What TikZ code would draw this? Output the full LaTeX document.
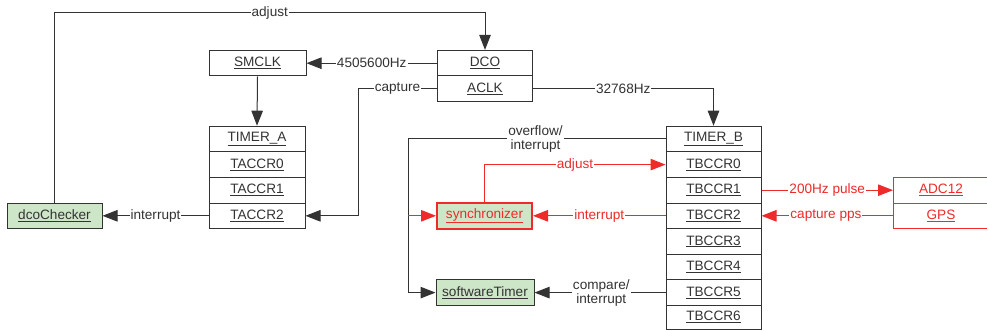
\documentclass[tikz,border=0pt]{standalone}
\usepackage{fontspec}
\setmainfont{Liberation Sans}
\usetikzlibrary{arrows.meta}
\definecolor{wire}{HTML}{333333}
\definecolor{alert}{HTML}{EE2A2A}
\definecolor{leaf}{HTML}{CDE6C8}
\tikzset{
  blk/.style={draw=wire, line width=1pt, minimum width=95pt, minimum height=25.6pt,
    inner sep=0pt, font=\fontsize{13.6}{15}\selectfont, text=wire},
  redblk/.style={blk, draw=alert, text=alert},
  task/.style={blk, fill=leaf},
  conn/.style={draw=wire, line width=1pt, -{Triangle[length=15pt,width=11.5pt]}},
  redconn/.style={conn, draw=alert},
  lbl/.style={fill=white, inner sep=1pt, font=\fontsize{13.6}{14}\selectfont, text=wire, align=center},
  redlbl/.style={lbl, text=alert}
}
\newcommand{\ul}[1]{\underline{#1}}
\begin{document}
\begin{tikzpicture}[x=1pt,y=-1pt]
\useasboundingbox (0,0) rectangle (987,331);

% clock sources
\node[blk] (dco)  at (485,63.2) {\ul{DCO}};
\node[blk] (aclk) at (485,88.8) {\ul{ACLK}};
\node[blk, minimum width=97pt] (smclk) at (257.5,63.2) {\ul{SMCLK}};

% TIMER_A stack
\node[blk, minimum width=96pt] (ta)  at (257,139) {\ul{TIMER\_A}};
\node[blk, minimum width=96pt] (ta0) at (257,164.6) {\ul{TACCR0}};
\node[blk, minimum width=96pt] (ta1) at (257,190.2) {\ul{TACCR1}};
\node[blk, minimum width=96pt] (ta2) at (257,215.8) {\ul{TACCR2}};

% TIMER_B stack
\node[blk] (tb)  at (713.5,139) {\ul{TIMER\_B}};
\node[blk] (tb0) at (713.5,164.6) {\ul{TBCCR0}};
\node[blk] (tb1) at (713.5,190.2) {\ul{TBCCR1}};
\node[blk] (tb2) at (713.5,215.8) {\ul{TBCCR2}};
\node[blk] (tb3) at (713.5,241.4) {\ul{TBCCR3}};
\node[blk] (tb4) at (713.5,267) {\ul{TBCCR4}};
\node[blk] (tb5) at (713.5,292.6) {\ul{TBCCR5}};
\node[blk, minimum height=23.6pt] (tb6) at (713.5,317.2) {\ul{TBCCR6}};

% software tasks
\node[task] (chk)  at (54.5,215.8) {\ul{dcoChecker}};
\node[task, draw=alert, line width=2pt, text=alert] (sync) at (484.5,215.8) {\ul{synchronizer}};
\node[task, minimum width=98pt] (swt) at (485,292.6) {\ul{softwareTimer}};

% external peripherals
\node[redblk, minimum width=110pt, anchor=west] (adc) at (893,190.2) {\hspace*{-15pt}\ul{ADC12}};
\node[redblk, minimum width=110pt, anchor=west] (gps) at (893,215.8) {\hspace*{-15pt}\ul{GPS}};

% bend points
\coordinate (ctop) at (chk.north |- 0,13);
\coordinate (dtop) at (dco.north |- 0,13);
\coordinate (capx) at (358,88.8);
\coordinate (capy) at (358,215.8);
\coordinate (bend32) at (tb.north |- aclk.east);
\coordinate (ovx) at (408,139);
\coordinate (ovy) at (408,292.6);
\coordinate (ovs) at (408,215.8);
\coordinate (adjx) at (sync.north |- tb0.west);

% black connectors
\draw[conn] (chk.north) -- (ctop) -- node[lbl, pos=0.5]{adjust} (dtop) -- (dco.north);
\draw[conn] (dco.west) -- node[lbl, pos=0.5]{4505600Hz} (smclk.east);
\draw[conn] (smclk.south) -- (ta.north);
\draw[conn] (aclk.west) -- node[lbl, pos=0.5]{capture} (capx) -- (capy) -- (ta2.east);
\draw[conn] (ta2.west) -- node[lbl, pos=0.5]{interrupt} (chk.east);
\draw[conn] (aclk.east) -- node[lbl, pos=0.5]{32768Hz} (bend32) -- (tb.north);
\draw[conn] (tb.west) -- node[lbl, pos=0.505]{overflow/\\interrupt} (ovx) -- (ovy) -- (swt.west);
\draw[conn] (tb5.west) -- node[lbl, pos=0.49]{compare/\\interrupt} (swt.east);

% red connectors
\draw[redconn] (ovs) -- (sync.west);
\draw[redconn] (sync.north) -- (adjx) -- node[redlbl, pos=0.5]{adjust} (tb0.west);
\draw[redconn] (tb2.west) -- node[redlbl, pos=0.5]{interrupt} (sync.east);
\draw[redconn] (tb1.east) -- node[redlbl, pos=0.5]{200Hz pulse} (adc.west);
\draw[redconn] (gps.west) -- node[redlbl, pos=0.51]{capture pps} (tb2.east);
\end{tikzpicture}
\end{document}
